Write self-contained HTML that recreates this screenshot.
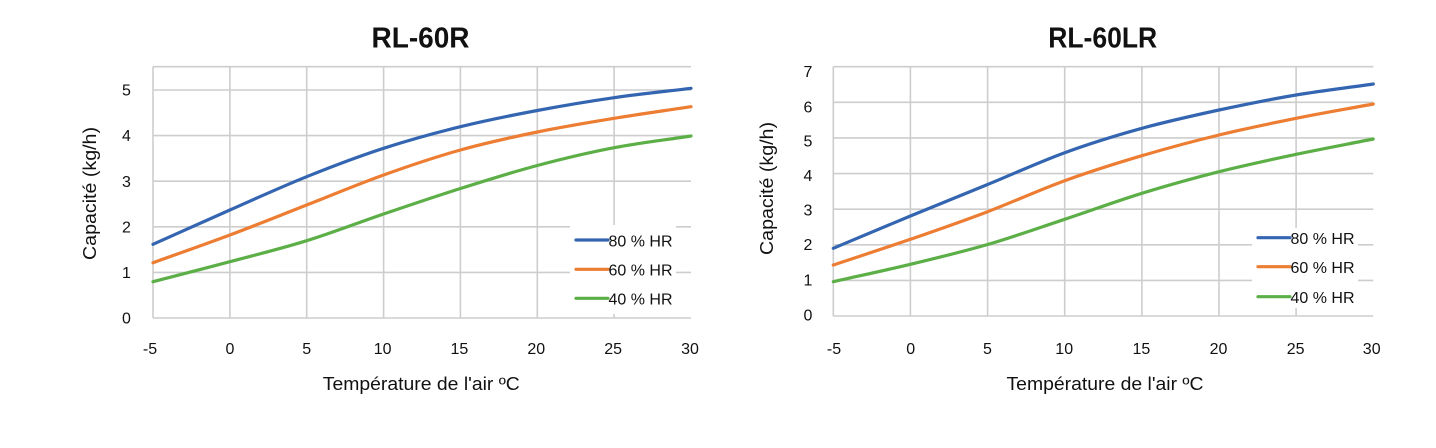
<!DOCTYPE html>
<html><head><meta charset="utf-8"><style>
html,body{margin:0;padding:0;background:#fff;}
svg{display:block;}
text{font-family:"Liberation Sans",sans-serif;fill:#111;}
</style></head><body>
<svg width="1436" height="448" viewBox="0 0 1436 448" xmlns="http://www.w3.org/2000/svg">
<rect width="1436" height="448" fill="#fff"/>

<!-- ===== LEFT CHART ===== -->
<text x="420.5" y="47.3" font-size="29" font-weight="bold" text-anchor="middle" textLength="98" lengthAdjust="spacingAndGlyphs">RL-60R</text>
<g stroke="#cdcdcd" stroke-width="1.6" fill="none">
  <line x1="153" y1="66.7" x2="691" y2="66.7"/>
  <line x1="153" y1="90" x2="691" y2="90"/>
  <line x1="153" y1="135.6" x2="691" y2="135.6"/>
  <line x1="153" y1="181.2" x2="691" y2="181.2"/>
  <line x1="153" y1="226.8" x2="691" y2="226.8"/>
  <line x1="153" y1="272.4" x2="691" y2="272.4"/>
  <line x1="153" y1="318" x2="691" y2="318"/>
  <line x1="153" y1="66.7" x2="153" y2="318"/>
  <line x1="229.9" y1="66.7" x2="229.9" y2="318"/>
  <line x1="306.7" y1="66.7" x2="306.7" y2="318"/>
  <line x1="383.6" y1="66.7" x2="383.6" y2="318"/>
  <line x1="460.4" y1="66.7" x2="460.4" y2="318"/>
  <line x1="537.3" y1="66.7" x2="537.3" y2="318"/>
  <line x1="614.1" y1="66.7" x2="614.1" y2="318"/>
</g>
<rect x="570" y="225" width="106" height="89" fill="#fff"/>
<g fill="none" stroke-width="3.2" stroke-linecap="round" stroke-linejoin="round">
  <path stroke="#3465b1" d="M153,244.3 C178.6,232.9 204.3,221.3 229.9,210 C255.5,198.7 281.1,187 306.7,176.7 C332.3,166.4 358,156.6 383.6,148.3 C409.2,140 434.8,133 460.4,126.7 C486,120.4 511.7,115.3 537.3,110.5 C562.9,105.7 588.5,101.4 614.1,97.7 C639.7,94 665.4,91.4 691,88.3"/>
  <path stroke="#ec7d32" d="M153,262.7 C178.6,253.5 204.3,244.6 229.9,235 C255.5,225.4 281.1,215 306.7,205 C332.3,195 358,184.2 383.6,175 C409.2,165.8 434.8,157.2 460.4,150 C486,142.8 511.7,137.3 537.3,132 C562.9,126.7 588.5,122.5 614.1,118.3 C639.7,114.1 665.4,110.6 691,106.7"/>
  <path stroke="#5caf47" d="M153,281.7 C178.6,275 204.3,268.5 229.9,261.7 C255.5,254.9 281.1,248.7 306.7,240.7 C332.3,232.8 358,222.7 383.6,214 C409.2,205.3 434.8,196.6 460.4,188.5 C486,180.4 511.7,172.3 537.3,165.5 C562.9,158.7 588.5,152.6 614.1,147.7 C639.7,142.8 665.4,139.9 691,136"/>
</g>
<!-- legend left -->
<g stroke-width="3.2" stroke-linecap="round">
  <line x1="576" y1="240" x2="608" y2="240" stroke="#3465b1"/>
  <line x1="576" y1="269.3" x2="608" y2="269.3" stroke="#ec7d32"/>
  <line x1="576" y1="298.3" x2="608" y2="298.3" stroke="#5caf47"/>
</g>
<g font-size="16">
  <text x="608.5" y="246.3" textLength="64" lengthAdjust="spacingAndGlyphs">80 % HR</text>
  <text x="608.5" y="275.6" textLength="64" lengthAdjust="spacingAndGlyphs">60 % HR</text>
  <text x="608.5" y="304.6" textLength="64" lengthAdjust="spacingAndGlyphs">40 % HR</text>
</g>
<!-- y ticks left -->
<g font-size="16" text-anchor="middle">
  <text x="126.5" y="95.7">5</text>
  <text x="126.5" y="141.2">4</text>
  <text x="126.5" y="186.8">3</text>
  <text x="126.5" y="232.3">2</text>
  <text x="126.5" y="277.8">1</text>
  <text x="126.5" y="323.3">0</text>
</g>
<!-- x ticks left -->
<g font-size="16" text-anchor="middle">
  <text x="150" y="354">-5</text>
  <text x="229.9" y="354">0</text>
  <text x="306.7" y="354">5</text>
  <text x="382.6" y="354">10</text>
  <text x="459.4" y="354">15</text>
  <text x="536.3" y="354">20</text>
  <text x="613.1" y="354">25</text>
  <text x="690" y="354">30</text>
</g>
<text x="421.3" y="390" font-size="18" text-anchor="middle" textLength="197" lengthAdjust="spacingAndGlyphs">Température de l'air ºC</text>
<text transform="translate(96,193.5) rotate(-90)" font-size="18" text-anchor="middle" textLength="133" lengthAdjust="spacingAndGlyphs">Capacité (kg/h)</text>

<!-- ===== RIGHT CHART ===== -->
<text x="1102.7" y="47.3" font-size="29" font-weight="bold" text-anchor="middle" textLength="109" lengthAdjust="spacingAndGlyphs">RL-60LR</text>
<g stroke="#cdcdcd" stroke-width="1.6" fill="none">
  <line x1="833.3" y1="66.7" x2="1373.3" y2="66.7"/>
  <line x1="833.3" y1="102.3" x2="1373.3" y2="102.3"/>
  <line x1="833.3" y1="137.9" x2="1373.3" y2="137.9"/>
  <line x1="833.3" y1="173.6" x2="1373.3" y2="173.6"/>
  <line x1="833.3" y1="209.2" x2="1373.3" y2="209.2"/>
  <line x1="833.3" y1="244.8" x2="1373.3" y2="244.8"/>
  <line x1="833.3" y1="280.4" x2="1373.3" y2="280.4"/>
  <line x1="833.3" y1="316" x2="1373.3" y2="316"/>
  <line x1="833.3" y1="66.7" x2="833.3" y2="316"/>
  <line x1="910.4" y1="66.7" x2="910.4" y2="316"/>
  <line x1="987.6" y1="66.7" x2="987.6" y2="316"/>
  <line x1="1064.7" y1="66.7" x2="1064.7" y2="316"/>
  <line x1="1141.9" y1="66.7" x2="1141.9" y2="316"/>
  <line x1="1219" y1="66.7" x2="1219" y2="316"/>
  <line x1="1296.1" y1="66.7" x2="1296.1" y2="316"/>
</g>
<rect x="1252" y="228" width="106" height="80" fill="#fff"/>
<g fill="none" stroke-width="3.2" stroke-linecap="round" stroke-linejoin="round">
  <path stroke="#3465b1" d="M833.3,248.3 C859,237.5 884.7,226.6 910.4,216 C936.1,205.4 961.9,195.1 987.6,184.5 C1013.3,174 1039,162.1 1064.7,152.7 C1090.4,143.3 1116.2,135.4 1141.9,128.3 C1167.6,121.2 1193.3,115.6 1219,110 C1244.7,104.5 1270.4,99.3 1296.1,95 C1321.8,90.7 1347.6,87.7 1373.3,84"/>
  <path stroke="#ec7d32" d="M833.3,265 C859,256.4 884.7,248.2 910.4,239.3 C936.1,230.4 961.9,221.5 987.6,211.7 C1013.3,201.9 1039,190 1064.7,180.7 C1090.4,171.4 1116.2,163.3 1141.9,155.7 C1167.6,148.1 1193.3,141.2 1219,135 C1244.7,128.8 1270.4,123.5 1296.1,118.3 C1321.8,113.1 1347.6,108.8 1373.3,104"/>
  <path stroke="#5caf47" d="M833.3,281.7 C859,275.9 884.7,270.5 910.4,264.3 C936.1,258.1 961.9,252 987.6,244.5 C1013.3,237 1039,227.8 1064.7,219.3 C1090.4,210.8 1116.2,201.2 1141.9,193.3 C1167.6,185.4 1193.3,178.2 1219,171.7 C1244.7,165.2 1270.4,159.8 1296.1,154.3 C1321.8,148.9 1347.6,144.1 1373.3,139"/>
</g>
<!-- legend right -->
<g stroke-width="3.2" stroke-linecap="round">
  <line x1="1258" y1="237.7" x2="1290" y2="237.7" stroke="#3465b1"/>
  <line x1="1258" y1="266.7" x2="1290" y2="266.7" stroke="#ec7d32"/>
  <line x1="1258" y1="296.7" x2="1290" y2="296.7" stroke="#5caf47"/>
</g>
<g font-size="16">
  <text x="1290.5" y="244" textLength="64" lengthAdjust="spacingAndGlyphs">80 % HR</text>
  <text x="1290.5" y="273" textLength="64" lengthAdjust="spacingAndGlyphs">60 % HR</text>
  <text x="1290.5" y="303" textLength="64" lengthAdjust="spacingAndGlyphs">40 % HR</text>
</g>
<!-- y ticks right -->
<g font-size="16" text-anchor="middle">
  <text x="808" y="77.2">7</text>
  <text x="808" y="112.4">6</text>
  <text x="808" y="146.7">5</text>
  <text x="808" y="181.2">4</text>
  <text x="808" y="215.7">3</text>
  <text x="808" y="250.2">2</text>
  <text x="808" y="285.7">1</text>
  <text x="808" y="320.7">0</text>
</g>
<!-- x ticks right -->
<g font-size="16" text-anchor="middle">
  <text x="834" y="354">-5</text>
  <text x="910.7" y="354">0</text>
  <text x="987.5" y="354">5</text>
  <text x="1064.2" y="354">10</text>
  <text x="1141.4" y="354">15</text>
  <text x="1218.5" y="354">20</text>
  <text x="1295.6" y="354">25</text>
  <text x="1371.7" y="354">30</text>
</g>
<text x="1105" y="390" font-size="18" text-anchor="middle" textLength="197" lengthAdjust="spacingAndGlyphs">Température de l'air ºC</text>
<text transform="translate(773,188.5) rotate(-90)" font-size="18" text-anchor="middle" textLength="133" lengthAdjust="spacingAndGlyphs">Capacité (kg/h)</text>
</svg>
</body></html>
